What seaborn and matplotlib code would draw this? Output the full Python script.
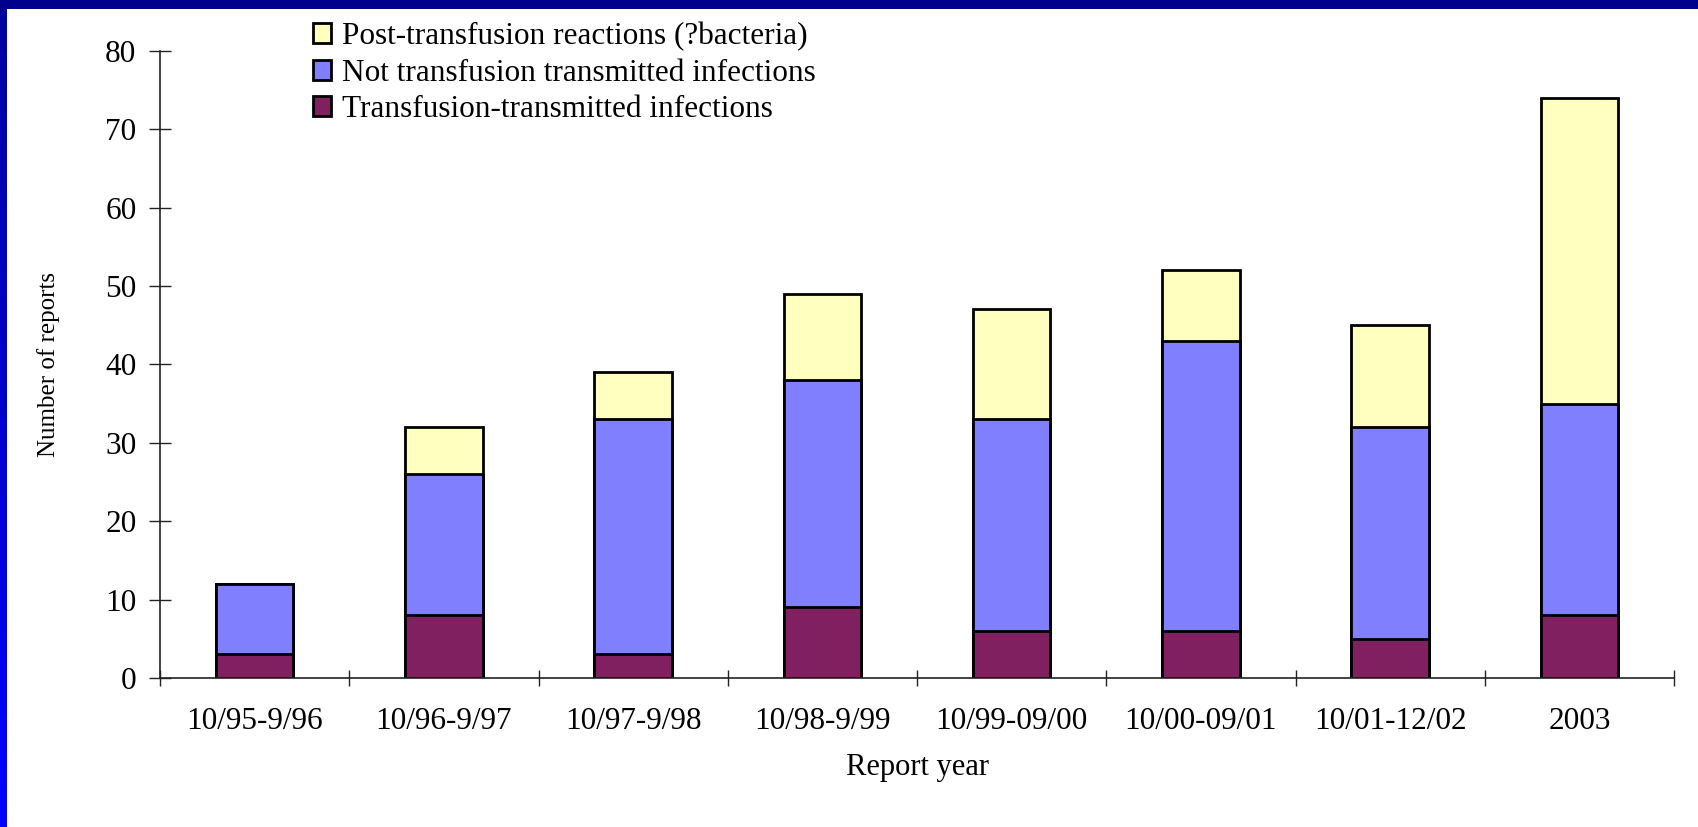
import numpy as np
import pandas as pd
import matplotlib
matplotlib.use("Agg")
import matplotlib.pyplot as plt
import seaborn as sns
from matplotlib.patches import Patch

# Data
report_years = ["10/95-9/96", "10/96-9/97", "10/97-9/98", "10/98-9/99",
                "10/99-09/00", "10/00-09/01", "10/01-12/02", "2003"]
transfusion_transmitted = [3, 8, 3, 9, 6, 6, 5, 8]
not_transfusion_transmitted = [9, 18, 30, 29, 27, 37, 27, 27]
post_transfusion = [0, 6, 6, 11, 14, 9, 13, 39]

series_labels = ["Post-transfusion reactions (?bacteria)",
                 "Not transfusion transmitted infections",
                 "Transfusion-transmitted infections"]
colors = {"post": "#FFFFC0", "not": "#8080FF", "trans": "#802060"}

df = pd.DataFrame({
    "year": report_years,
    "trans": transfusion_transmitted,
    "not": not_transfusion_transmitted,
    "post": post_transfusion,
})
df["lower2"] = df["trans"] + df["not"]
df["total"] = df["lower2"] + df["post"]

sns.set_theme(style="white")
plt.rcParams["font.family"] = ["Liberation Serif", "DejaVu Serif"]
plt.rcParams["text.color"] = "black"
plt.rcParams["xtick.color"] = "black"
plt.rcParams["ytick.color"] = "black"
plt.rcParams["axes.labelcolor"] = "black"

fig = plt.figure(figsize=(16.99, 8.27), dpi=100)
ax = fig.add_axes([160 / 1699, 1 - 678 / 827, (1674 - 160) / 1699, (678 - 50.7) / 827])

# stacked bars drawn back to front (cumulative totals)
bar_kw = dict(width=0.41, edgecolor="black", linewidth=2, saturation=1, ax=ax)
sns.barplot(data=df, x="year", y="total", color=colors["post"], **bar_kw)
sns.barplot(data=df, x="year", y="lower2", color=colors["not"], **bar_kw)
sns.barplot(data=df, x="year", y="trans", color=colors["trans"], **bar_kw)

ax.set_ylim(0, 80)
ax.set_xlim(-0.5, len(report_years) - 0.5)
ax.set_yticks(range(0, 81, 10))
ax.set_xticks(np.arange(len(report_years)))
ax.set_xticklabels(report_years)

# category separators as x ticks
ax.set_xticks(np.arange(len(report_years) + 1) - 0.5, minor=True)
ax.tick_params(axis="x", which="major", length=0, pad=21, labelsize=22.5)
ax.tick_params(axis="x", which="minor", direction="inout", length=12,
               width=1, color="#222222", bottom=True)
ax.tick_params(axis="y", direction="inout", length=16, width=1,
               color="#222222", left=True, pad=9, labelsize=22.5)

for side in ["top", "right"]:
    ax.spines[side].set_visible(False)
for side in ["left", "bottom"]:
    ax.spines[side].set_color("#222222")
    ax.spines[side].set_linewidth(1.2)

ax.set_xlabel("Report year", fontsize=22, labelpad=12)
ax.set_ylabel("Number of reports", fontsize=18)
ax.yaxis.set_label_coords(-0.066, 0.5)

handles = [Patch(facecolor=colors["post"], edgecolor="black", linewidth=2),
           Patch(facecolor=colors["not"], edgecolor="black", linewidth=2),
           Patch(facecolor=colors["trans"], edgecolor="black", linewidth=2)]
fig.legend(handles, series_labels, loc="upper left",
           bbox_to_anchor=(300 / 1699, 1 - 9 / 827), frameon=False,
           fontsize=22.5, handlelength=0.6, handleheight=0.6,
           handletextpad=0.35, labelspacing=0.25, borderaxespad=0)

# blue slide frame: top band and left gradient strip
top = fig.add_axes([0, 1 - 9 / 827, 1, 9 / 827])
top.set_facecolor("#00008C")
top.set_xticks([])
top.set_yticks([])
for s in top.spines.values():
    s.set_visible(False)

left = fig.add_axes([0, 0, 7 / 1699, 1 - 9 / 827])
grad = np.linspace(0, 1, 256).reshape(-1, 1)
blue = np.zeros((256, 1, 3))
blue[:, 0, 2] = 0.62 + 0.38 * grad[:, 0]
left.imshow(blue, aspect="auto", extent=(0, 1, 0, 1))
left.set_axis_off()

fig.savefig("out.png", dpi=100)
